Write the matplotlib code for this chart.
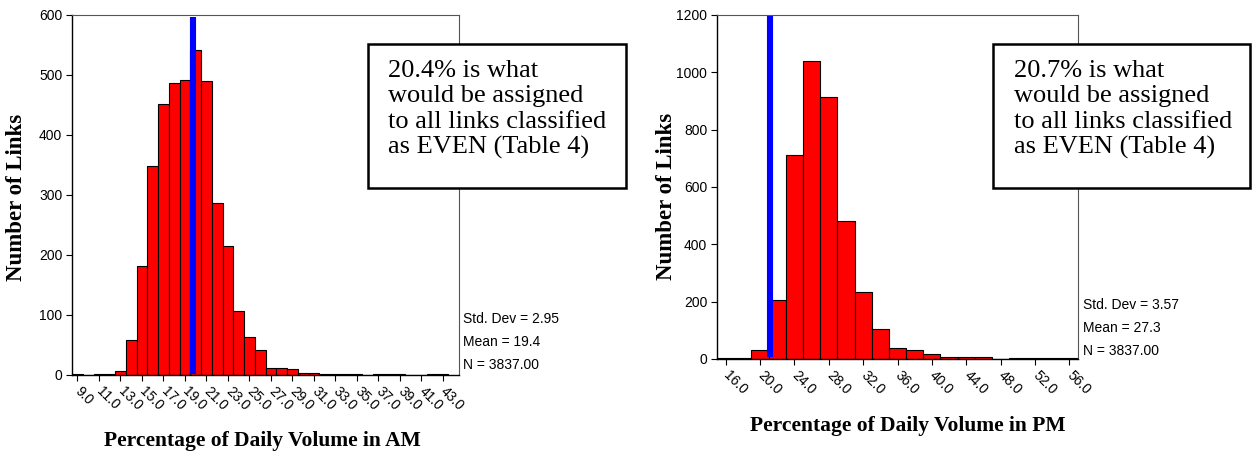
import matplotlib
matplotlib.use("Agg")
import matplotlib.pyplot as plt
from matplotlib.patches import Rectangle
import numpy as np

# AM histogram: bin centres (width 1) and counts
am_bins = [9, 10, 11, 12, 13, 14, 15, 16, 17, 18, 19, 20, 21, 22, 23, 24, 25, 26,
           27, 28, 29, 30, 31, 32, 33, 34, 35, 36, 37, 38, 39, 40, 41, 42, 43]
am_counts = [1, 0, 1, 1, 6, 59, 182, 348, 451, 487, 492, 541, 490, 286, 215, 106, 64, 41,
             12, 12, 10, 3, 3, 1, 1, 1, 1, 0, 1, 1, 1, 0, 0, 1, 1]
am_ticks = [9, 11, 13, 15, 17, 19, 21, 23, 25, 27, 29, 31, 33, 35, 37, 39, 41, 43]
am_marker = 19.8
am_stats = ["Std. Dev = 2.95", "Mean = 19.4", "N = 3837.00"]
am_note = "20.4% is what\nwould be assigned\nto all links classified\nas EVEN (Table 4)"

# PM histogram: bin centres (width 2) and counts
pm_bins = [16, 18, 20, 22, 24, 26, 28, 30, 32, 34, 36, 38, 40, 42, 44, 46, 48, 50, 52, 54, 56]
pm_counts = [3, 5, 30, 207, 710, 1040, 915, 481, 234, 105, 37, 30, 16, 7, 7, 7, 1, 4, 4, 2, 4]
pm_ticks = [16, 20, 24, 28, 32, 36, 40, 44, 48, 52, 56]
pm_marker = 21.2
pm_stats = ["Std. Dev = 3.57", "Mean = 27.3", "N = 3837.00"]
pm_note = "20.7% is what\nwould be assigned\nto all links classified\nas EVEN (Table 4)"

W, H = 1258, 458
SANS = "Liberation Sans"
SERIF = "Liberation Serif"

fig = plt.figure(figsize=(W / 100, H / 100), dpi=100)


def px_rect(x0, y0, x1, y1):
    """pixel box (top-left origin) -> figure fraction [l, b, w, h]"""
    return [x0 / W, 1 - y1 / H, (x1 - x0) / W, (y1 - y0) / H]


def draw_hist(rect, bins, counts, width, ticks, xlim, ylim, ystep, marker, mspan,
              xlabel, xlab_pos, ylab_pos, stats, stats_pos, box, note_pos, note):
    ax = fig.add_axes(px_rect(*rect))
    ax.bar(bins, counts, width=width, color="#ff0000", edgecolor="black", linewidth=0.8)
    # hand-drawn marker line for the EVEN share
    ax.plot([marker, marker], mspan, color="#0000ff", lw=4.4, solid_capstyle="butt")
    ax.set_xlim(*xlim)
    ax.set_ylim(*ylim)
    ax.set_yticks(np.arange(0, ylim[1] + 1, ystep))
    ax.set_xticks(ticks)
    ax.set_xticklabels([f"{t:.1f}" for t in ticks], rotation=-45, ha="left",
                       va="center", rotation_mode="anchor", family=SANS, fontsize=10)
    for lab in ax.get_yticklabels():
        lab.set_family(SANS)
        lab.set_fontsize(10)
    ax.tick_params(axis="both", direction="out", length=4, width=0.8, pad=3)
    ax.tick_params(axis="x", pad=6)
    for s in ["top", "right"]:
        ax.spines[s].set_color("#555555")
        ax.spines[s].set_linewidth(0.8)
    for s in ["left", "bottom"]:
        ax.spines[s].set_linewidth(1.0)

    fig.text(xlab_pos[0] / W, 1 - xlab_pos[1] / H, xlabel, family=SERIF,
             fontweight="bold", fontsize=15.5, ha="center", va="center")
    fig.text(ylab_pos[0] / W, 1 - ylab_pos[1] / H, "Number of Links", family=SERIF,
             fontweight="bold", fontsize=16.5, ha="center", va="center", rotation=90)
    for i, s in enumerate(stats):
        fig.text(stats_pos[0] / W, 1 - (stats_pos[1] + i * 23) / H, s, family=SANS,
                 fontsize=10, ha="left", va="center")

    bx = px_rect(*box)
    fig.add_artist(Rectangle((bx[0], bx[1]), bx[2], bx[3], transform=fig.transFigure,
                             facecolor="white", edgecolor="black", linewidth=1.8))
    fig.text(note_pos[0] / W, 1 - note_pos[1] / H, note, family=SERIF, fontsize=19,
             ha="left", va="top", linespacing=1.2)
    return ax


draw_hist((72, 15, 459, 375), am_bins, am_counts, 1.0, am_ticks, (8.5, 44.5), (0, 600),
          100, am_marker, (2, 597), "Percentage of Daily Volume in AM", (262, 441),
          (17, 197), am_stats, (463, 319), (368, 44, 626, 188), (388, 60), am_note)

draw_hist((717, 15, 1078, 359), pm_bins, pm_counts, 2.0, pm_ticks, (15, 57), (0, 1200),
          200, pm_marker, (7, 1195), "Percentage of Daily Volume in PM", (908, 426),
          (666, 196), pm_stats, (1083, 305), (993, 44, 1250, 188), (1014, 60), pm_note)

fig.savefig("out.png", dpi=100, facecolor="white")
